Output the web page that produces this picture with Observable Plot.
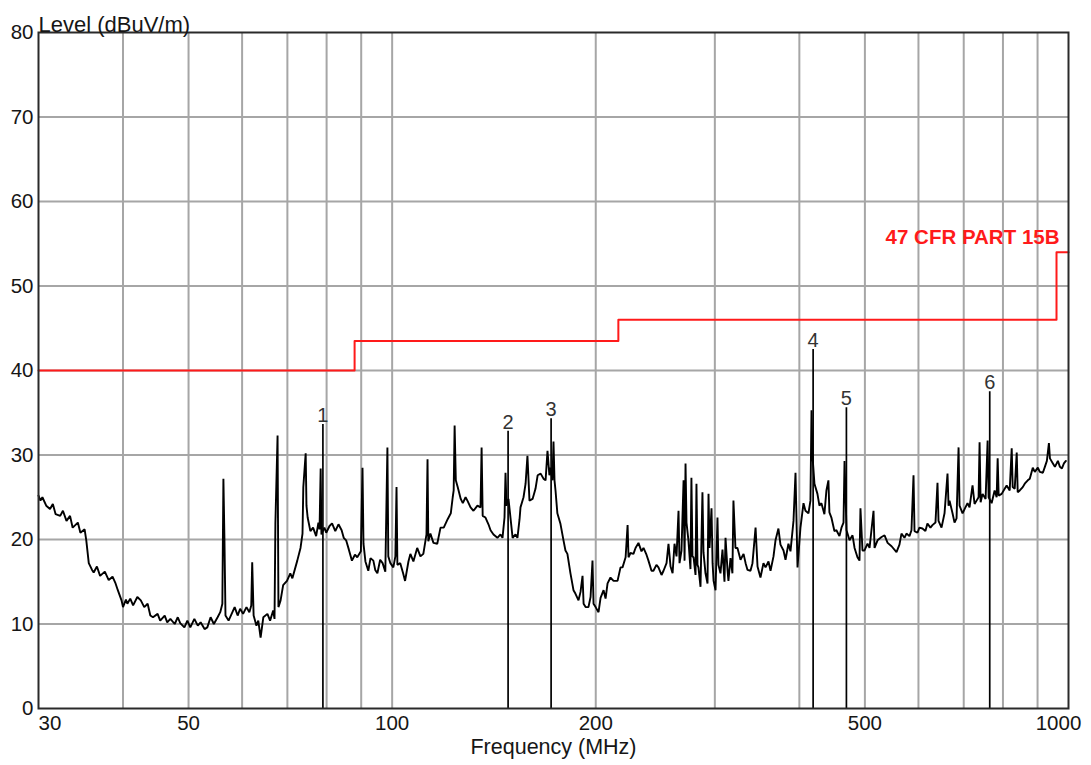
<!DOCTYPE html>
<html>
<head>
<meta charset="utf-8">
<script src="https://cdn.jsdelivr.net/npm/d3@7"></script>
<script src="https://cdn.jsdelivr.net/npm/@observablehq/plot@0.6"></script>
<style>
  html, body { margin: 0; padding: 0; background: #fff; }
  #chart { width: 1091px; height: 765px; }
</style>
</head>
<body>
<div id="chart"></div>
<script>
// ---- values ----
const yTicks = [0, 10, 20, 30, 40, 50, 60, 70, 80];
const yGrid = [10, 20, 30, 40, 50, 60, 70];
const xGrid = [40, 50, 60, 70, 80, 90, 100, 200, 300, 400, 500, 600, 700, 800, 900];
const xLabelsMid = [50, 100, 200, 500];
const xLabelFirst = [30];
const xLabelLast = [1000];

const limitFreq = [30, 88, 216, 960, 1000];
const limitLevel = [40, 43.5, 46, 54, 54];
const limitName = "47 CFR PART 15B";

const markerFreq = [79.0, 148.4, 171.8, 419.2, 469.5, 764.8];
const markerLevel = [33.6, 32.8, 34.3, 42.5, 35.6, 37.5];
const markerLabel = ["1", "2", "3", "4", "5", "6"];

// scan trace: [frequency MHz, level dBuV/m]
const scan = [
[30.0,25.2],[30.2,24.6],[30.4,25.0],[30.8,24.0],[31.2,23.6],[31.5,24.2],[31.8,23.0],[32.3,22.8],[32.6,23.4],[33.0,22.2],
[33.4,22.8],[33.7,21.4],[34.3,22.0],[34.6,20.8],[35.1,21.2],[35.3,19.9],[35.6,17.2],[36.0,16.4],[36.2,16.1],[36.6,16.8],
[37.0,15.7],[37.6,16.2],[38.1,15.2],[38.6,15.6],[39.0,14.8],[39.3,14.0],[39.8,12.8],[40.0,12.0],[40.4,12.9],[40.6,12.4],
[41.0,13.0],[41.4,12.2],[42.0,13.2],[42.5,12.8],[43.0,12.0],[43.5,12.4],[43.9,11.0],[44.3,10.8],[45.0,11.2],[45.4,10.4],
[46.1,11.0],[46.5,10.2],[47.0,10.6],[47.7,10.0],[48.2,10.8],[48.6,10.1],[49.3,9.6],[49.8,10.4],[50.3,9.6],[51.0,10.6],
[51.6,9.8],[52.1,10.2],[52.8,9.4],[53.3,9.6],[53.9,10.8],[54.5,10.0],[55.2,10.8],[55.7,11.4],[56.1,12.4],[56.3,27.2],
[56.5,20.0],[56.7,11.0],[57.3,10.4],[57.9,11.2],[58.5,12.0],[59.1,11.0],[59.6,11.8],[60.2,11.2],[60.9,12.0],[61.5,11.4],
[61.9,12.2],[62.1,17.3],[62.4,11.0],[63.0,9.8],[63.4,10.4],[63.9,8.4],[64.5,10.8],[65.4,11.2],[66.0,10.4],[66.7,11.6],
[67.0,10.6],[67.2,21.9],[67.7,32.3],[67.9,12.0],[68.4,12.8],[69.0,14.6],[69.9,15.1],[70.7,16.0],[71.2,15.4],[72.4,17.5],
[73.2,19.0],[73.7,20.7],[73.9,26.2],[74.5,30.2],[74.7,24.0],[75.0,22.6],[75.7,21.0],[76.4,21.4],[77.2,20.4],[77.8,22.0],
[78.1,21.2],[78.4,28.4],[78.6,20.6],[79.4,21.4],[79.9,20.8],[80.8,21.6],[81.5,21.9],[82.4,21.0],[83.3,21.8],[84.2,21.1],
[84.8,20.2],[85.5,19.9],[86.3,18.8],[87.2,17.5],[88.1,18.2],[88.8,17.9],[89.9,18.6],[90.4,28.5],[90.7,19.5],[91.3,17.4],
[92.2,16.3],[92.9,17.8],[93.8,17.5],[94.4,16.4],[95.1,16.0],[96.0,17.6],[96.8,17.2],[97.7,16.2],[98.4,30.9],[98.7,18.0],
[99.4,17.2],[100.4,16.7],[101.1,18.0],[101.5,26.2],[101.8,17.0],[102.8,17.2],[103.8,16.0],[104.5,15.1],[105.7,17.4],[106.4,18.3],
[107.5,17.4],[108.9,19.0],[110.1,18.0],[111.2,18.3],[112.4,20.6],[112.8,29.5],[113.1,19.8],[113.9,20.7],[115.1,19.6],[116.6,19.5],
[117.9,21.4],[119.2,21.4],[120.8,22.4],[122.1,23.1],[122.9,25.0],[123.3,25.8],[123.7,33.5],[124.2,27.0],[125.0,26.2],[126.3,24.8],
[127.2,24.3],[128.4,25.0],[129.2,24.6],[130.6,23.8],[131.9,23.4],[133.7,24.0],[135.1,23.8],[135.6,30.9],[136.1,22.8],[137.4,22.6],
[138.8,21.8],[139.8,21.1],[141.2,20.6],[143.1,20.2],[144.6,20.6],[145.6,20.2],[146.6,22.6],[147.1,27.9],[147.6,24.0],[148.6,24.8],
[149.6,22.6],[150.7,20.2],[152.2,20.6],[153.2,20.2],[154.3,22.4],[154.8,23.8],[156.4,25.0],[157.5,26.6],[158.5,29.9],[159.6,24.6],
[161.3,24.8],[162.9,26.0],[164.1,27.6],[165.8,27.8],[167.4,27.2],[168.6,27.0],[169.7,30.5],[170.8,27.6],[171.4,28.5],[172.6,27.0],
[173.2,31.6],[173.8,27.0],[174.4,25.8],[175.5,23.1],[177.3,21.9],[179.2,19.9],[180.4,18.7],[181.6,18.3],[183.5,16.0],[185.4,14.0],
[186.6,13.6],[188.6,12.8],[189.9,13.8],[191.2,15.7],[191.9,12.4],[193.2,12.0],[195.1,12.0],[196.5,13.2],[197.8,17.5],[198.5,12.4],
[199.9,12.0],[201.9,11.4],[203.3,13.1],[205.4,14.0],[206.8,13.0],[208.2,14.8],[210.3,15.5],[212.5,15.1],[215.4,15.1],[217.6,16.7],
[219.1,16.7],[221.4,17.9],[222.9,21.7],[223.6,17.9],[225.1,18.4],[227.4,18.3],[229.0,19.0],[231.3,19.6],[233.7,18.6],[235.3,19.0],
[237.7,18.2],[239.3,17.5],[241.8,16.3],[243.4,16.3],[245.9,17.0],[247.6,16.7],[250.2,15.8],[251.9,16.3],[254.5,17.2],[256.2,19.5],
[258.0,16.8],[259.8,16.0],[261.5,19.5],[263.3,18.0],[265.1,23.4],[266.0,17.2],[267.8,18.7],[269.7,27.0],[270.6,17.5],[271.5,29.0],
[272.4,22.0],[274.2,19.9],[276.1,16.5],[277.0,27.3],[278.0,18.0],[279.0,17.9],[280.9,15.8],[281.8,26.6],[282.8,17.0],[283.7,16.7],
[285.7,14.4],[287.6,25.6],[288.6,18.5],[290.6,16.0],[292.6,14.8],[293.6,25.4],[294.6,19.0],[296.6,23.7],[297.7,17.2],[298.7,15.1],
[300.7,14.0],[302.7,22.6],[303.7,17.0],[305.8,16.0],[307.9,18.8],[310.0,15.0],[311.1,20.2],[313.2,16.4],[314.2,15.1],[316.4,17.8],
[318.5,16.0],[319.6,24.6],[321.8,19.0],[324.0,19.0],[327.4,17.6],[330.8,18.3],[333.1,17.2],[335.3,16.4],[338.7,16.3],[341.0,17.2],
[344.6,21.4],[346.9,16.8],[350.4,15.5],[354.0,17.2],[356.5,16.7],[360.1,17.4],[362.6,16.3],[366.3,18.0],[368.8,19.9],[372.5,21.3],
[375.1,19.4],[379.0,18.7],[381.6,17.6],[385.4,19.5],[388.1,18.6],[392.1,22.2],[394.8,27.9],[397.5,16.7],[401.5,21.4],[405.7,24.3],
[408.4,23.4],[412.6,23.1],[415.4,24.6],[416.9,35.3],[418.2,30.0],[421.1,26.6],[425.4,25.4],[428.3,24.0],[431.2,24.3],[435.6,23.0],
[438.6,25.8],[441.6,27.0],[443.1,23.2],[446.1,22.6],[450.7,21.0],[453.8,21.1],[458.5,20.4],[461.7,21.4],[464.9,22.0],[466.5,29.3],
[469.7,21.1],[474.5,19.9],[479.4,20.5],[482.7,19.0],[487.5,17.9],[490.9,17.5],[492.5,23.7],[495.9,18.7],[499.3,18.7],[504.5,19.5],
[508.0,19.0],[514.9,23.4],[516.7,19.0],[522.0,19.9],[529.2,20.3],[534.6,20.5],[540.2,19.6],[547.5,19.2],[556.8,18.5],[562.4,19.4],
[566.3,20.7],[572.1,20.2],[576.0,20.7],[581.9,20.4],[585.9,21.1],[590.0,27.6],[592.0,21.0],[598.0,20.8],[602.0,21.4],[608.2,21.3],
[614.4,21.0],[618.6,21.9],[625.0,21.4],[629.3,21.7],[635.8,22.0],[640.2,26.7],[642.4,22.2],[649.0,21.4],[655.7,23.1],[662.4,27.8],
[664.7,24.0],[667.0,24.6],[673.8,23.1],[678.4,22.0],[683.1,22.5],[687.8,30.9],[690.1,24.0],[697.2,23.1],[702.0,23.6],[709.1,24.3],
[714.0,23.8],[721.3,26.4],[726.3,24.2],[731.3,24.6],[736.3,25.0],[738.8,31.5],[741.4,24.4],[746.4,25.4],[754.1,24.8],[759.3,31.7],
[761.9,25.0],[769.7,24.3],[777.6,25.8],[783.0,25.0],[785.7,29.6],[788.4,25.2],[796.5,25.4],[804.7,26.0],[810.2,26.4],[818.6,25.8],
[824.2,30.8],[827.0,26.2],[832.7,26.0],[838.4,30.3],[841.2,25.6],[847.1,25.8],[855.8,26.2],[861.6,26.6],[870.5,27.0],[876.5,27.2],
[885.5,28.5],[891.6,28.0],[900.9,28.5],[907.0,28.0],[916.4,27.9],[922.7,28.6],[929.0,29.3],[935.5,31.4],[938.7,29.6],[948.3,29.0],
[954.8,28.6],[964.6,29.3],[971.2,28.6],[977.9,28.4],[984.5,29.0],[991.2,29.3]
];

// ---- tables built from the arrays ----
const traceData = scan.map(([f, l]) => ({f, l}));
const limitData = limitFreq.map((f, i) => ({f, l: limitLevel[i]}));
const markerData = markerFreq.map((f, i) => ({f, l: markerLevel[i], label: markerLabel[i]}));

const FONT = "'Liberation Sans', Arial, sans-serif";
const TXT = "#161616";

const chart = Plot.plot({
  width: 1091,
  height: 765,
  marginLeft: 38,
  marginRight: 23,
  marginTop: 32,
  marginBottom: 57,
  style: {fontFamily: FONT, background: "#fff", color: TXT, overflow: "visible"},
  x: {type: "log", domain: [30, 1000], axis: null},
  y: {domain: [0, 80], axis: null},
  marks: [
    Plot.ruleX(xGrid, {stroke: "#a6a6a6", strokeWidth: 2}),
    Plot.ruleY(yGrid, {stroke: "#a6a6a6", strokeWidth: 2}),
    Plot.line(limitData, {x: "f", y: "l", curve: "step-after", stroke: "#ff1a1a", strokeWidth: 2}),
    Plot.line(traceData, {x: "f", y: "l", stroke: "#000", strokeWidth: 1.9, strokeLinejoin: "miter"}),
    Plot.ruleX(markerData, {x: "f", y1: 0, y2: "l", stroke: "#000", strokeWidth: 1.7}),
    Plot.frame({stroke: "#2a2a2a", strokeWidth: 2}),
    Plot.text(markerData, {x: "f", y: "l", text: "label", dy: -9, fontSize: 20, fill: "#333", textAnchor: "middle"}),
    Plot.text([limitName], {x: limitFreq[3], y: limitLevel[3], dy: -15, dx: 3, textAnchor: "end", fontSize: 20.5, fontWeight: "bold", fill: "#ff1a1a"}),
    // y tick labels
    Plot.text(yTicks, {x: 30, y: d => d, text: d => String(d), dx: -5, textAnchor: "end", fontSize: 20.5, fill: TXT}),
    // x tick labels
    Plot.text(xLabelsMid, {x: d => d, text: d => String(d), frameAnchor: "bottom", lineAnchor: "top", dy: 7, fontSize: 20.5, fill: TXT}),
    Plot.text(xLabelFirst, {x: d => d, text: d => String(d), frameAnchor: "bottom", lineAnchor: "top", dy: 7, textAnchor: "start", fontSize: 20.5, fill: TXT}),
    Plot.text(xLabelLast, {x: d => d, text: d => String(d), frameAnchor: "bottom", lineAnchor: "top", dy: 7, dx: -10, fontSize: 20.5, fill: TXT}),
    // axis titles
    Plot.text(["Level (dBuV/m)"], {frameAnchor: "top-left", textAnchor: "start", dy: -16, fontSize: 22, fill: TXT}),
    Plot.text(["Frequency (MHz)"], {frameAnchor: "bottom", dy: 45, fontSize: 21.5, fill: TXT})
  ]
});
document.getElementById("chart").appendChild(chart);
</script>
</body>
</html>
